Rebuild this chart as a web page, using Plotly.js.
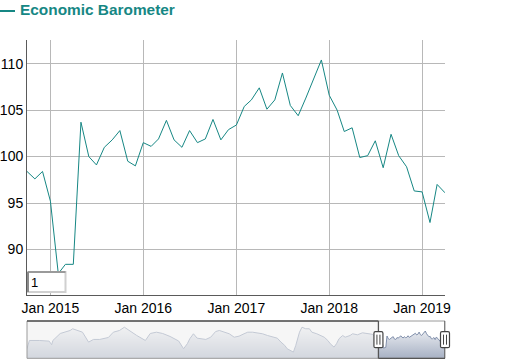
<!DOCTYPE html>
<html><head><meta charset="utf-8">
<script src="https://cdn.plot.ly/plotly-3.0.1.min.js"></script>
<style>html,body{margin:0;padding:0;background:#fff}#chart{width:511px;height:359px}</style>
</head><body><div id="chart"></div>
<script>
// ---- data (monthly values shown in the main window) ----
const dates = [
 '2014-10-01','2014-11-01','2014-12-01',
 '2015-01-01','2015-02-01','2015-03-01','2015-04-01','2015-05-01','2015-06-01','2015-07-01','2015-08-01','2015-09-01','2015-10-01','2015-11-01','2015-12-01',
 '2016-01-01','2016-02-01','2016-03-01','2016-04-01','2016-05-01','2016-06-01','2016-07-01','2016-08-01','2016-09-01','2016-10-01','2016-11-01','2016-12-01',
 '2017-01-01','2017-02-01','2017-03-01','2017-04-01','2017-05-01','2017-06-01','2017-07-01','2017-08-01','2017-09-01','2017-10-01','2017-11-01','2017-12-01',
 '2018-01-01','2018-02-01','2018-03-01','2018-04-01','2018-05-01','2018-06-01','2018-07-01','2018-08-01','2018-09-01','2018-10-01','2018-11-01','2018-12-01',
 '2019-01-01','2019-02-01','2019-03-01','2019-04-01'
];
const values = [
 98.4, 97.6, 98.4,
 95.2, 87.4, 88.4, 88.4, 103.7, 100.0, 99.1, 101.0, 101.8, 102.8, 99.5, 99.0,
 101.5, 101.1, 101.9, 103.9, 101.8, 101.0, 102.8, 101.5, 101.9, 104.0, 101.8, 102.9,
 103.4, 105.4, 106.1, 107.4, 105.1, 106.1, 109.0, 105.5, 104.4, 106.3, 108.3, 110.4,
 106.6, 105.0, 102.7, 103.1, 99.9, 100.1, 101.7, 98.8, 102.4, 100.1, 98.9, 96.3,
 96.2, 92.9, 97.0, 96.1
];
// ---- earlier history, visible only in the range-selector overview ----
const histDates = [
 '1991-01-01','1991-03-01','1991-11-01','1992-07-01','1992-09-01','1992-10-01','1993-04-01','1993-12-01',
 '1994-02-01','1994-06-01','1994-10-01','1995-03-01','1995-07-01','1995-12-01','1996-07-01','1996-11-01',
 '1997-04-01','1997-08-01','1998-01-01','1998-06-01','1999-01-01','1999-05-01','1999-10-01','2000-03-01',
 '2000-09-01','2001-04-01','2001-08-01','2001-11-01','2002-01-01','2002-04-01','2002-07-01','2002-10-01',
 '2003-02-01','2003-06-01','2003-10-01','2004-01-01','2004-05-01','2004-09-01','2005-01-01','2005-05-01',
 '2005-09-01','2005-12-01','2006-04-01','2006-08-01','2006-12-01','2007-04-01','2007-08-01','2007-12-01',
 '2008-03-01','2008-06-01','2008-08-01','2008-11-01','2009-01-01','2009-03-01','2009-06-01','2009-08-01',
 '2009-11-01','2010-02-01','2010-04-01','2010-08-01','2010-11-01','2011-02-01','2011-05-01','2011-07-01',
 '2011-10-01','2011-12-01','2012-02-01','2012-05-01','2012-07-01','2012-11-01','2013-01-01','2013-05-01',
 '2013-09-01','2014-01-01','2014-05-01','2014-08-01'
];
const histValues = [
 86.6, 97.7, 97.7, 96.8, 92.0, 97.7, 107.1, 111.1,
 113.4, 111.1, 108.8, 95.5, 99.1, 99.1, 101.7, 108.8,
 111.1, 115.5, 109.7, 104.4, 97.7, 107.1, 108.8, 107.1,
 103.1, 97.0, 86.6, 93.3, 100.0, 106.7, 100.8, 100.0,
 99.1, 102.1, 109.7, 111.1, 108.8, 106.7, 102.1, 103.5,
 106.7, 108.8, 108.8, 108.0, 106.7, 104.4, 102.1, 100.8,
 95.5, 91.1, 86.6, 84.4, 82.1, 91.1, 108.8, 115.5,
 113.4, 113.4, 108.8, 106.7, 104.4, 102.1, 97.7, 93.3,
 88.8, 93.3, 100.0, 104.4, 102.1, 104.4, 106.7, 105.3,
 108.0, 106.7, 106.0, 102.0
];
const yTickVals = [90, 95, 100, 105, 110];
const seriesName = 'Economic Barometer';

// ---- layout geometry ----
const W = 511, H = 359;
const mL = 27, mR = 66, mT = 40, mB = 0;
const plotH = H - mT - mB, plotW = W - mL - mR;
const mainBottomPx = 295, ovTopPx = 321, ovBottomPx = 358.3;
const FONT = 'Liberation Sans, Arial, sans-serif';
const TEAL = '#168784';

const ovX = histDates.concat(dates);
const ovY = histValues.concat(values);
const ovMin = Math.min(...ovY), ovMax = Math.max(...ovY), ovR = ovMax - ovMin;
const ovLo = ovMin - 0.25 * ovR, ovHi = ovMax + 0.25 * ovR;
const first = dates[0], last = dates[dates.length - 1];

const pxX = px => (px - mL) / plotW;
const pxY = py => (H - mB - py) / plotH;
// position of the selected window inside the overview, as a fraction of its width
const t0 = Date.parse(histDates[0]), t1 = Date.parse(last);
const fracOf = d => (Date.parse(d) - t0) / (t1 - t0);

const traces = [
  {x: dates, y: values, type: 'scatter', mode: 'lines', name: seriesName,
   line: {color: TEAL, width: 1}, xaxis: 'x', yaxis: 'y', hoverinfo: 'skip'},
  {x: ovX, y: ovY, type: 'scatter', mode: 'lines', xaxis: 'x2', yaxis: 'y2',
   line: {color: '#808FAB', width: 1}, fill: 'tozeroy',
   fillgradient: {type: 'vertical', start: ovLo, stop: ovHi,
     colorscale: [[0, '#A7B1C4'], [1, '#ffffff']]},
   hoverinfo: 'skip'}
];

const handlePath = 'M-3,-8 L3,-8 Q4.5,-8 4.5,-6.5 L4.5,6.5 Q4.5,8 3,8 L-3,8 Q-4.5,8 -4.5,6.5 L-4.5,-6.5 Q-4.5,-8 -3,-8 Z';
const gripPath = 'M-1.5,-5 L-1.5,5 M1.5,-5 L1.5,5';
const ovMidPaper = (pxY(ovBottomPx) + pxY(ovTopPx)) / 2;
function handle(frac) {
  return [
    {type: 'path', xref: 'paper', xsizemode: 'pixel', xanchor: frac, yref: 'paper', ysizemode: 'pixel', yanchor: ovMidPaper,
     path: handlePath, fillcolor: '#ffffff', line: {color: '#444444', width: 1.2}, layer: 'above'},
    {type: 'path', xref: 'paper', xsizemode: 'pixel', xanchor: frac, yref: 'paper', ysizemode: 'pixel', yanchor: ovMidPaper,
     path: gripPath, line: {color: '#444444', width: 1}, layer: 'above'}
  ];
}

const shapes = [
  // dimmed (unselected) part of the overview
  {type: 'rect', xref: 'x2', yref: 'y2 domain', x0: histDates[0], x1: first, y0: 0, y1: 1,
   fillcolor: 'rgba(240,240,240,0.6)', line: {width: 0}, layer: 'above'},
  // overview outline
  {type: 'rect', xref: 'x2 domain', yref: 'y2 domain', x0: 0, x1: 1, y0: 0, y1: 1,
   line: {color: '#9a9a9a', width: 1}, layer: 'above'},
  // foreground frame around selected window
  {type: 'line', xref: 'x2', yref: 'y2 domain', x0: histDates[0], x1: first, y0: 1, y1: 1, line: {color: '#555', width: 1.3}, layer: 'above'},
  {type: 'line', xref: 'x2', yref: 'y2 domain', x0: first, x1: first, y0: 0, y1: 1, line: {color: '#555', width: 1.3}, layer: 'above'},
  {type: 'line', xref: 'x2', yref: 'y2 domain', x0: first, x1: last, y0: 0, y1: 0, line: {color: '#555', width: 1.3}, layer: 'above'},
  {type: 'line', xref: 'x2', yref: 'y2 domain', x0: last, x1: last, y0: 0, y1: 1, line: {color: '#555', width: 1.3}, layer: 'above'},
  ...handle(fracOf(first)), ...handle(fracOf(last)),
  // roller input box
  {type: 'rect', xref: 'x domain', yref: 'y domain', xsizemode: 'pixel', ysizemode: 'pixel', xanchor: 0, yanchor: 0,
   x0: 1, x1: 38.5, y0: 3, y1: 23, fillcolor: '#ffffff', line: {color: '#d0d0d0', width: 2}, layer: 'above'},
  {type: 'line', xref: 'x domain', yref: 'y domain', xsizemode: 'pixel', ysizemode: 'pixel', xanchor: 0, yanchor: 0,
   x0: 1, x1: 38.5, y0: 23, y1: 23, line: {color: '#9a9a9a', width: 2}, layer: 'above'},
  {type: 'line', xref: 'x domain', yref: 'y domain', xsizemode: 'pixel', ysizemode: 'pixel', xanchor: 0, yanchor: 0,
   x0: 1, x1: 1, y0: 3, y1: 23, line: {color: '#8a8a8a', width: 2}, layer: 'above'},
  // legend dash before title
  {type: 'line', xref: 'paper', yref: 'paper', x0: pxX(0), x1: pxX(15), y0: pxY(11), y1: pxY(11),
   line: {color: TEAL, width: 2}}
];

const annotations = [
  {text: '1', xref: 'x domain', yref: 'y domain', x: 0, y: 0, xanchor: 'left', yanchor: 'middle',
   xshift: 2, yshift: 12.5, showarrow: false, font: {family: FONT, size: 13, color: '#000'}}
];

const axisCommon = {showline: true, linecolor: '#5a5a5a', linewidth: 1, ticks: '', zeroline: false,
  gridcolor: '#b8b8b8', gridwidth: 1, tickfont: {family: FONT, size: 14, color: '#000'}, fixedrange: true};

const layout = {
  width: W, height: H, margin: {l: mL, r: mR, t: mT, b: mB},
  paper_bgcolor: '#ffffff', plot_bgcolor: '#ffffff', showlegend: false,
  title: {text: seriesName, font: {family: FONT, size: 15.4, color: TEAL, weight: 'bold'},
    xref: 'container', yref: 'container', x: 20 / W, xanchor: 'left', y: 1 - 9.6 / H, yanchor: 'middle'},
  xaxis: Object.assign({}, axisCommon, {type: 'date', range: [first, last], tickformat: '%b %Y',
    dtick: 'M12', tick0: '2015-01-01', showgrid: true, anchor: 'y', domain: [0, 1]}),
  yaxis: Object.assign({}, axisCommon, {range: [85.1, 112.55], tickvals: yTickVals, showgrid: true,
    anchor: 'x', domain: [pxY(mainBottomPx), 1]}),
  xaxis2: {type: 'date', range: [histDates[0], last], showticklabels: false, showgrid: false, zeroline: false,
    showline: false, ticks: '', anchor: 'y2', domain: [0, 1], fixedrange: true},
  yaxis2: {range: [ovLo, ovHi], showticklabels: false, showgrid: false, zeroline: false, showline: false,
    ticks: '', anchor: 'x2', domain: [pxY(ovBottomPx), pxY(ovTopPx)], fixedrange: true},
  shapes: shapes, annotations: annotations
};

Plotly.newPlot('chart', traces, layout, {staticPlot: true, displayModeBar: false});
</script>
</body></html>
